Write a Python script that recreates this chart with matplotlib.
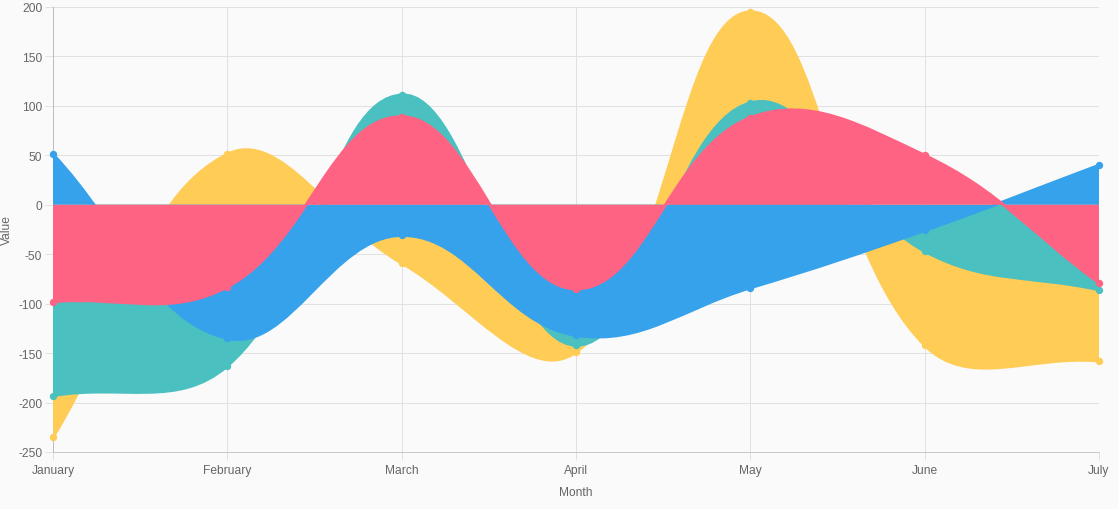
import numpy as np
import matplotlib
matplotlib.use('Agg')
import matplotlib.pyplot as plt
from matplotlib.path import Path
from matplotlib.patches import PathPatch

plt.rcParams['font.family'] = ['Liberation Sans', 'DejaVu Sans']

months = ['January', 'February', 'March', 'April', 'May', 'June', 'July']
red_values = [-98, -83, 89, -85, 88, 50, -79]
blue_values = [51, -135, -31, -132, -84, -26, 40]
green_values = [-193, -163, 111, -142, 103, -47, -86]
yellow_values = [-235, 51, -59, -149, 195, -142, -158]
y_ticks = list(range(-250, 201, 50))

# drawn bottom-to-top
series = [
    (yellow_values, '#FFCD56'),
    (green_values, '#4BC0C0'),
    (blue_values, '#36A2EB'),
    (red_values, '#FF6384'),
]

W, H = 1118, 510
fig = plt.figure(figsize=(W / 100, H / 100), dpi=100)
fig.patch.set_facecolor('#fafafa')
ax = fig.add_axes([53 / W, (H - 453) / H, 1046 / W, 445 / H])
ax.set_facecolor('#fafafa')
ax.set_xlim(0, len(months) - 1)
ax.set_ylim(-250, 200)

TXT = '#666666'
GRID = '#e1e1e1'


def spline_segments(xs, ys, tension=0.4):
    pts = ax.transData.transform(np.column_stack([xs, ys]).astype(float))
    n = len(pts)
    bb = ax.bbox
    cps = []
    for i in range(n):
        prev = pts[i - 1] if i > 0 else pts[i]
        cur = pts[i]
        nxt = pts[i + 1] if i < n - 1 else pts[i]
        d01 = np.hypot(*(cur - prev))
        d12 = np.hypot(*(nxt - cur))
        tot = d01 + d12
        s01 = d01 / tot if tot else 0.0
        s12 = d12 / tot if tot else 0.0
        cp_prev = cur - tension * s01 * (nxt - prev)
        cp_next = cur + tension * s12 * (nxt - prev)
        for cp in (cp_prev, cp_next):
            cp[0] = min(max(cp[0], bb.x0), bb.x1)
            cp[1] = min(max(cp[1], bb.y0), bb.y1)
        cps.append((cp_prev, cp_next))
    verts = [pts[0]]
    for i in range(n - 1):
        verts += [cps[i][1], cps[i + 1][0], pts[i + 1]]
    inv = ax.transData.inverted()
    return inv.transform(np.array(verts))


xs = np.arange(len(months))
for z, (vals, col) in enumerate(series):
    curve = spline_segments(xs, vals)
    nseg = len(xs) - 1
    # fill to origin
    fverts = [(xs[0], 0.0)] + [tuple(v) for v in curve] + [(xs[-1], 0.0), (xs[0], 0.0)]
    fcodes = [Path.MOVETO, Path.LINETO] + [Path.CURVE4] * (3 * nseg) + [Path.LINETO, Path.CLOSEPOLY]
    ax.add_patch(PathPatch(Path(fverts, fcodes), facecolor=col, edgecolor='none',
                           zorder=3 + z * 3))
    lcodes = [Path.MOVETO] + [Path.CURVE4] * (3 * nseg)
    ax.add_patch(PathPatch(Path(curve, lcodes), facecolor='none', edgecolor=col,
                           linewidth=2.16, zorder=4 + z * 3, capstyle='butt', joinstyle='round'))
    ax.plot(xs, vals, linestyle='none', marker='o', markersize=4.3,
            markerfacecolor=col, markeredgecolor=col, zorder=5 + z * 3, clip_on=False)

ax.set_xticks(xs)
ax.set_xticklabels(months)
ax.set_yticks(y_ticks)
ax.set_yticklabels([str(v) for v in y_ticks])
ax.grid(True, color=GRID, linewidth=0.72, zorder=0, alpha=1.0)
ax.set_axisbelow(True)
ax.tick_params(axis='both', length=5.76, width=0.72, color=GRID, labelcolor=TXT,
               labelsize=8.64)
ax.tick_params(axis='x', pad=3)
ax.tick_params(axis='y', pad=2)
for s in ('top', 'right'):
    ax.spines[s].set_visible(False)
ax.spines['left'].set_color('#bcbcbc')
ax.spines['left'].set_linewidth(0.72)
ax.spines['bottom'].set_color('#c8c8c8')
ax.spines['bottom'].set_linewidth(0.72)

fig.text(7 / W, 1 - 230 / H, 'Value', rotation=90, ha='center', va='center',
         color=TXT, fontsize=8.64)
fig.text((53 + 1099) / 2 / W, 1 - 493 / H, 'Month', ha='center', va='center',
         color=TXT, fontsize=8.64)

fig.savefig('out.png', dpi=100, facecolor=fig.get_facecolor())
